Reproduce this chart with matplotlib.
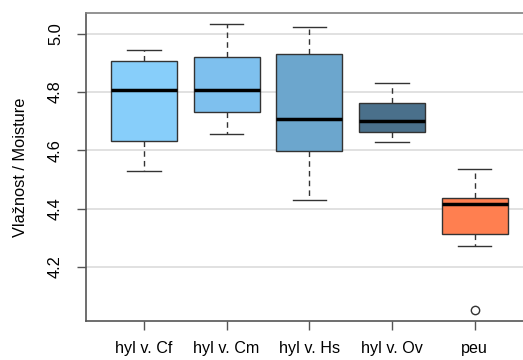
import matplotlib.pyplot as plt

plt.rcParams['font.family'] = ['Liberation Sans', 'DejaVu Sans']

# groups and box statistics
groups = ['hyl v. Cf', 'hyl v. Cm', 'hyl v. Hs', 'hyl v. Ov', 'peu']
whisker_low = [4.531, 4.655, 4.429, 4.630, 4.271]
q1 = [4.631, 4.730, 4.597, 4.664, 4.314]
median = [4.807, 4.808, 4.707, 4.700, 4.416]
q3 = [4.905, 4.919, 4.931, 4.763, 4.437]
whisker_high = [4.945, 5.032, 5.024, 4.830, 4.537]
outliers = [[], [], [], [], [4.053]]
colors = ['#87CEFA', '#7EC0EE', '#6CA6CD', '#4A708B', '#FF7F50']
yticks = [4.2, 4.4, 4.6, 4.8, 5.0]

stats = []
for i, g in enumerate(groups):
    stats.append({'label': g, 'whislo': whisker_low[i], 'q1': q1[i], 'med': median[i],
                  'q3': q3[i], 'whishi': whisker_high[i], 'fliers': outliers[i]})

fig = plt.figure(figsize=(5.23, 3.6), dpi=100)
ax = fig.add_axes([86 / 523, 39 / 360, 437 / 523, 308 / 360])

for y in yticks:
    ax.axhline(y, color='#dcdcdc', lw=1.2, zorder=0)

bp = ax.bxp(stats, positions=range(1, 6), widths=0.8, patch_artist=True,
            capwidths=0.4,
            boxprops=dict(edgecolor='#333333', linewidth=1.0),
            medianprops=dict(color='black', linewidth=2.5),
            whiskerprops=dict(color='#333333', linestyle=(0, (4, 3)), linewidth=1.0),
            capprops=dict(color='#333333', linewidth=1.0),
            flierprops=dict(marker='o', markerfacecolor='none', markeredgecolor='#333333',
                            markersize=6, markeredgewidth=1.0))
for patch, c in zip(bp['boxes'], colors):
    patch.set_facecolor(c)
    patch.set_zorder(2)

ax.set_xlim(0.299, 5.584)
ax.set_ylim(4.015, 5.071)
ax.set_yticks(yticks)
ax.set_yticklabels(['4.2', '4.4', '4.6', '4.8', '5.0'], rotation=90, va='center', fontsize=11.8)
ax.set_xticks(range(1, 6))
ax.set_xticklabels(groups, fontsize=11.6)
ax.tick_params(axis='both', length=6.5, width=1.0, color='#555555')
ax.tick_params(axis='y', pad=10)
ax.tick_params(axis='x', pad=8)
ax.set_ylabel('Vlažnost / Moisture', fontsize=11.8)
ax.yaxis.set_label_coords(-0.133, 0.5)

ax.spines['right'].set_visible(False)
ax.spines['left'].set_color('#555555')
ax.spines['bottom'].set_color('#555555')
ax.spines['top'].set_color('#808080')
for s in ['left', 'bottom', 'top']:
    ax.spines[s].set_linewidth(1.2)

fig.savefig('out.png', dpi=100)
